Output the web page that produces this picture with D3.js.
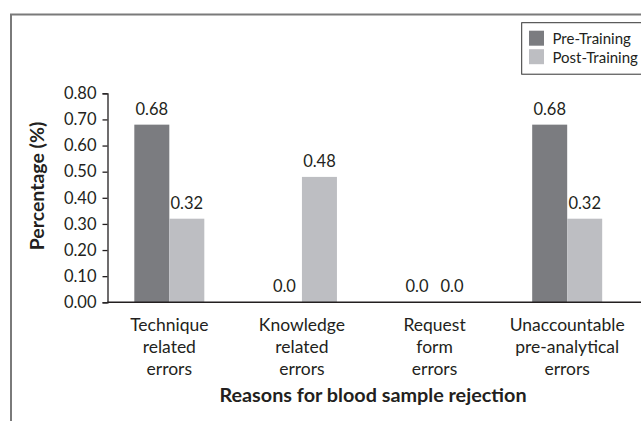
<!DOCTYPE html>
<html>
<head>
<meta charset="utf-8">
<script src="https://cdn.jsdelivr.net/npm/d3@7"></script>
<style>
  html, body { margin: 0; background: #fff; overflow: hidden; }
  svg { display: block; overflow: visible; }
  text { font-family: Lato, "Open Sans", sans-serif; fill: #231f20; }
</style>
</head>
<body>
<div id="chart"></div>
<script>
// data
var categories = [
    ["Technique", "related", "errors"],
    ["Knowledge", "related", "errors"],
    ["Request", "form", "errors"],
    ["Unaccountable", "pre-analytical", "errors"]
];
var seriesNames = ["Pre-Training", "Post-Training"];
var preTraining = [0.68, 0.0, 0.0, 0.68];
var postTraining = [0.32, 0.48, 0.0, 0.32];
var yTicks = [0, 0.1, 0.2, 0.3, 0.4, 0.5, 0.6, 0.7, 0.8];
var colors = ["#7b7c80", "#bdbec2"];

var width = 641, height = 421;

var svg = d3.select("#chart")
    .append("svg")
    .attr("width", width)
    .attr("height", height);

// outer frame (only top and left visible, right side runs off the page)
svg.append("path")
    .attr("d", "M11,430 V14.5 H720")
    .attr("fill", "none")
    .attr("stroke", "#7a7a7a")
    .attr("stroke-width", 2);

var x = d3.scaleBand()
    .domain(d3.range(categories.length))
    .range([103, 633.5]);

var xSub = d3.scaleBand()
    .domain([0, 1])
    .range([0, 70]);

var y = d3.scaleLinear()
    .domain([0, 0.8])
    .range([302.3, 93.3]);

// y axis
var yAxis = svg.append("g")
    .attr("transform", "translate(107.5,0)")
    .call(d3.axisLeft(y).tickValues(yTicks).tickFormat(d3.format(".2f")).tickSize(5).tickSizeOuter(5).tickPadding(6));
yAxis.select(".domain").attr("stroke", "#231f20").attr("stroke-width", 1.3);
yAxis.selectAll(".tick line").attr("stroke", "#231f20").attr("stroke-width", 1.3);
yAxis.selectAll(".tick text")
    .style("font-family", "Lato, sans-serif")
    .style("font-size", "16.5px")
    .attr("fill", "#231f20");

// bars
var groups = svg.append("g")
    .selectAll("g")
    .data(categories.map(function(c, i) { return [preTraining[i], postTraining[i]]; }))
    .enter()
    .append("g")
    .attr("transform", function(d, i) { return "translate(" + (x(i) + x.bandwidth() / 2 - 35) + ",0)"; });

groups.selectAll("rect")
    .data(function(d) { return d; })
    .enter()
    .append("rect")
    .attr("x", function(d, j) { return xSub(j); })
    .attr("y", function(d) { return y(d); })
    .attr("width", xSub.bandwidth())
    .attr("height", function(d) { return y(0) - y(d); })
    .attr("fill", function(d, j) { return colors[j]; });

groups.selectAll("text")
    .data(function(d) { return d; })
    .enter()
    .append("text")
    .attr("x", function(d, j) { return xSub(j) + xSub.bandwidth() / 2; })
    .attr("y", function(d) { return y(d) - 10; })
    .attr("text-anchor", "middle")
    .style("font-size", "16.5px")
    .text(function(d) { return d === 0 ? "0.0" : d.toFixed(2); });

// x axis line
svg.append("line")
    .attr("x1", 107.5).attr("x2", 720)
    .attr("y1", y(0)).attr("y2", y(0))
    .attr("stroke", "#231f20")
    .attr("stroke-width", 1.5);

// category labels
var catLabels = svg.append("g")
    .selectAll("text")
    .data(categories)
    .enter()
    .append("text")
    .attr("text-anchor", "middle")
    .attr("x", function(d, i) { return x(i) + x.bandwidth() / 2; })
    .attr("y", 331)
    .style("font-size", "17.5px");
catLabels.selectAll("tspan")
    .data(function(d) { return d; })
    .enter()
    .append("tspan")
    .attr("x", function() { return d3.select(this.parentNode).attr("x"); })
    .attr("dy", function(d, k) { return k === 0 ? 0 : 22; })
    .text(function(d) { return d; });

// axis titles
svg.append("text")
    .attr("x", 373)
    .attr("y", 402)
    .attr("text-anchor", "middle")
    .style("font-size", "19.8px")
    .style("font-weight", "bold")
    .text("Reasons for blood sample rejection");

svg.append("text")
    .attr("transform", "translate(43.5,186) rotate(-90)")
    .attr("text-anchor", "middle")
    .style("font-size", "19.5px")
    .style("font-weight", "bold")
    .text("Percentage (%)");

// legend
var legend = svg.append("g");
legend.append("rect")
    .attr("x", 521.7).attr("y", 22.7)
    .attr("width", 200).attr("height", 51.5)
    .attr("fill", "#fff")
    .attr("stroke", "#333")
    .attr("stroke-width", 1);
seriesNames.forEach(function(name, i) {
    legend.append("rect")
        .attr("x", 529).attr("y", 30.7 + i * 18.5)
        .attr("width", 15).attr("height", 15)
        .attr("fill", colors[i]);
    legend.append("text")
        .attr("x", 552.5).attr("y", 44 + i * 18.5)
        .style("font-size", "15px")
        .text(name);
});
</script>
</body>
</html>
